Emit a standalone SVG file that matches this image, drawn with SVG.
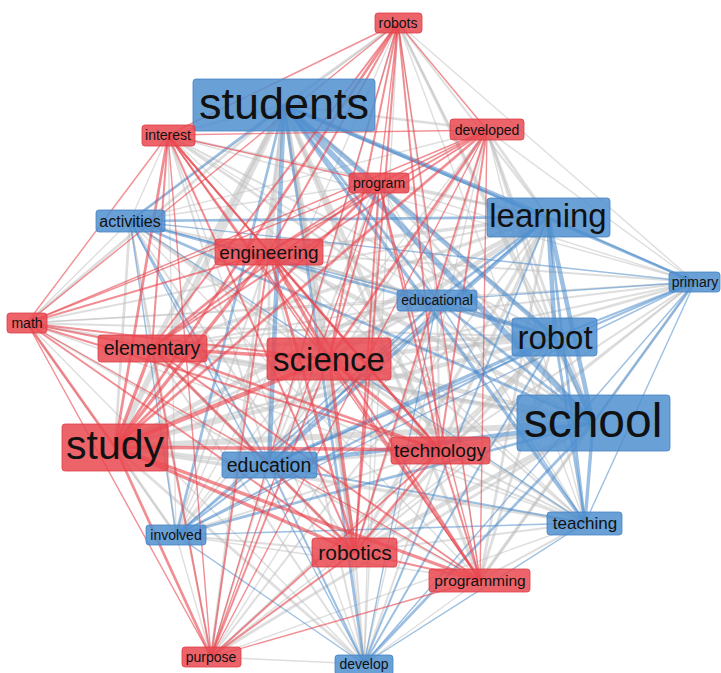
<svg xmlns="http://www.w3.org/2000/svg" width="721" height="673" viewBox="0 0 721 673">
<style>
.g line{stroke:#bdbdbd;stroke-opacity:.5}
.b line{stroke:#4a8bcb;stroke-opacity:.55}
.r line{stroke:#e8424b;stroke-opacity:.6}
.a{stroke-width:1.4}.c{stroke-width:2}.d{stroke-width:2.7}.e{stroke-width:3.4}.f{stroke-width:4.5}.h{stroke-width:6}
.rn rect{fill:#ea4850;fill-opacity:.85;stroke:#dc3f47;stroke-width:.8}
.bn rect{fill:#4f8fcf;fill-opacity:.85;stroke:#4683c2;stroke-width:.8}
text{font-family:"Liberation Sans",Arial,Helvetica,sans-serif;fill:#111;text-anchor:middle}
</style>
<rect width="721" height="673" fill="#fff"/>
<g id="connectors">
<g class="g">
<line x1="398" y1="23" x2="284" y2="105" class="d"/>
<line x1="398" y1="23" x2="548" y2="217" class="c"/>
<line x1="398" y1="23" x2="130" y2="221" class="a"/>
<line x1="398" y1="23" x2="695" y2="282" class="a"/>
<line x1="398" y1="23" x2="437" y2="300" class="a"/>
<line x1="398" y1="23" x2="555" y2="337" class="c"/>
<line x1="398" y1="23" x2="593" y2="423" class="d"/>
<line x1="398" y1="23" x2="269" y2="465" class="c"/>
<line x1="398" y1="23" x2="176" y2="535" class="a"/>
<line x1="398" y1="23" x2="585" y2="523" class="a"/>
<line x1="398" y1="23" x2="364" y2="664" class="a"/>
<line x1="284" y1="105" x2="168" y2="135" class="d"/>
<line x1="284" y1="105" x2="487" y2="130" class="d"/>
<line x1="284" y1="105" x2="379" y2="183" class="d"/>
<line x1="284" y1="105" x2="269" y2="252" class="f"/>
<line x1="284" y1="105" x2="27" y2="323" class="d"/>
<line x1="284" y1="105" x2="152" y2="348" class="f"/>
<line x1="284" y1="105" x2="329" y2="359" class="f"/>
<line x1="284" y1="105" x2="115" y2="447" class="h"/>
<line x1="284" y1="105" x2="440" y2="450" class="f"/>
<line x1="284" y1="105" x2="355" y2="552" class="f"/>
<line x1="284" y1="105" x2="480" y2="580" class="e"/>
<line x1="284" y1="105" x2="211" y2="657" class="d"/>
<line x1="168" y1="135" x2="548" y2="217" class="c"/>
<line x1="168" y1="135" x2="130" y2="221" class="a"/>
<line x1="168" y1="135" x2="695" y2="282" class="a"/>
<line x1="168" y1="135" x2="437" y2="300" class="a"/>
<line x1="168" y1="135" x2="555" y2="337" class="c"/>
<line x1="168" y1="135" x2="593" y2="423" class="d"/>
<line x1="168" y1="135" x2="269" y2="465" class="c"/>
<line x1="168" y1="135" x2="176" y2="535" class="a"/>
<line x1="168" y1="135" x2="585" y2="523" class="a"/>
<line x1="168" y1="135" x2="364" y2="664" class="a"/>
<line x1="487" y1="130" x2="548" y2="217" class="d"/>
<line x1="487" y1="130" x2="130" y2="221" class="a"/>
<line x1="487" y1="130" x2="695" y2="282" class="a"/>
<line x1="487" y1="130" x2="437" y2="300" class="a"/>
<line x1="487" y1="130" x2="555" y2="337" class="d"/>
<line x1="487" y1="130" x2="593" y2="423" class="d"/>
<line x1="487" y1="130" x2="269" y2="465" class="c"/>
<line x1="487" y1="130" x2="176" y2="535" class="a"/>
<line x1="487" y1="130" x2="585" y2="523" class="a"/>
<line x1="487" y1="130" x2="364" y2="664" class="a"/>
<line x1="379" y1="183" x2="548" y2="217" class="c"/>
<line x1="379" y1="183" x2="130" y2="221" class="a"/>
<line x1="379" y1="183" x2="695" y2="282" class="a"/>
<line x1="379" y1="183" x2="437" y2="300" class="a"/>
<line x1="379" y1="183" x2="555" y2="337" class="c"/>
<line x1="379" y1="183" x2="593" y2="423" class="d"/>
<line x1="379" y1="183" x2="269" y2="465" class="c"/>
<line x1="379" y1="183" x2="176" y2="535" class="a"/>
<line x1="379" y1="183" x2="585" y2="523" class="a"/>
<line x1="379" y1="183" x2="364" y2="664" class="a"/>
<line x1="548" y1="217" x2="269" y2="252" class="e"/>
<line x1="548" y1="217" x2="27" y2="323" class="c"/>
<line x1="548" y1="217" x2="152" y2="348" class="e"/>
<line x1="548" y1="217" x2="329" y2="359" class="f"/>
<line x1="548" y1="217" x2="115" y2="447" class="f"/>
<line x1="548" y1="217" x2="440" y2="450" class="e"/>
<line x1="548" y1="217" x2="355" y2="552" class="e"/>
<line x1="548" y1="217" x2="480" y2="580" class="d"/>
<line x1="548" y1="217" x2="211" y2="657" class="c"/>
<line x1="130" y1="221" x2="269" y2="252" class="c"/>
<line x1="130" y1="221" x2="27" y2="323" class="a"/>
<line x1="130" y1="221" x2="152" y2="348" class="c"/>
<line x1="130" y1="221" x2="329" y2="359" class="d"/>
<line x1="130" y1="221" x2="115" y2="447" class="d"/>
<line x1="130" y1="221" x2="440" y2="450" class="c"/>
<line x1="130" y1="221" x2="355" y2="552" class="c"/>
<line x1="130" y1="221" x2="480" y2="580" class="a"/>
<line x1="130" y1="221" x2="211" y2="657" class="a"/>
<line x1="269" y1="252" x2="695" y2="282" class="c"/>
<line x1="269" y1="252" x2="437" y2="300" class="c"/>
<line x1="269" y1="252" x2="555" y2="337" class="e"/>
<line x1="269" y1="252" x2="593" y2="423" class="f"/>
<line x1="269" y1="252" x2="269" y2="465" class="d"/>
<line x1="269" y1="252" x2="176" y2="535" class="c"/>
<line x1="269" y1="252" x2="585" y2="523" class="c"/>
<line x1="269" y1="252" x2="364" y2="664" class="c"/>
<line x1="695" y1="282" x2="27" y2="323" class="a"/>
<line x1="695" y1="282" x2="152" y2="348" class="c"/>
<line x1="695" y1="282" x2="329" y2="359" class="c"/>
<line x1="695" y1="282" x2="115" y2="447" class="d"/>
<line x1="695" y1="282" x2="440" y2="450" class="c"/>
<line x1="695" y1="282" x2="355" y2="552" class="c"/>
<line x1="695" y1="282" x2="480" y2="580" class="a"/>
<line x1="695" y1="282" x2="211" y2="657" class="a"/>
<line x1="437" y1="300" x2="27" y2="323" class="a"/>
<line x1="437" y1="300" x2="152" y2="348" class="c"/>
<line x1="437" y1="300" x2="329" y2="359" class="d"/>
<line x1="437" y1="300" x2="115" y2="447" class="d"/>
<line x1="437" y1="300" x2="440" y2="450" class="c"/>
<line x1="437" y1="300" x2="355" y2="552" class="c"/>
<line x1="437" y1="300" x2="480" y2="580" class="a"/>
<line x1="437" y1="300" x2="211" y2="657" class="a"/>
<line x1="27" y1="323" x2="555" y2="337" class="c"/>
<line x1="27" y1="323" x2="593" y2="423" class="d"/>
<line x1="27" y1="323" x2="269" y2="465" class="c"/>
<line x1="27" y1="323" x2="176" y2="535" class="a"/>
<line x1="27" y1="323" x2="585" y2="523" class="a"/>
<line x1="27" y1="323" x2="364" y2="664" class="a"/>
<line x1="555" y1="337" x2="152" y2="348" class="e"/>
<line x1="555" y1="337" x2="329" y2="359" class="f"/>
<line x1="555" y1="337" x2="115" y2="447" class="f"/>
<line x1="555" y1="337" x2="440" y2="450" class="e"/>
<line x1="555" y1="337" x2="355" y2="552" class="e"/>
<line x1="555" y1="337" x2="480" y2="580" class="d"/>
<line x1="555" y1="337" x2="211" y2="657" class="c"/>
<line x1="152" y1="348" x2="593" y2="423" class="f"/>
<line x1="152" y1="348" x2="269" y2="465" class="d"/>
<line x1="152" y1="348" x2="176" y2="535" class="c"/>
<line x1="152" y1="348" x2="585" y2="523" class="c"/>
<line x1="152" y1="348" x2="364" y2="664" class="c"/>
<line x1="329" y1="359" x2="593" y2="423" class="f"/>
<line x1="329" y1="359" x2="269" y2="465" class="e"/>
<line x1="329" y1="359" x2="176" y2="535" class="c"/>
<line x1="329" y1="359" x2="585" y2="523" class="d"/>
<line x1="329" y1="359" x2="364" y2="664" class="c"/>
<line x1="115" y1="447" x2="593" y2="423" class="h"/>
<line x1="115" y1="447" x2="269" y2="465" class="e"/>
<line x1="115" y1="447" x2="176" y2="535" class="d"/>
<line x1="115" y1="447" x2="585" y2="523" class="e"/>
<line x1="115" y1="447" x2="364" y2="664" class="d"/>
<line x1="593" y1="423" x2="440" y2="450" class="f"/>
<line x1="593" y1="423" x2="355" y2="552" class="f"/>
<line x1="593" y1="423" x2="480" y2="580" class="e"/>
<line x1="593" y1="423" x2="211" y2="657" class="d"/>
<line x1="269" y1="465" x2="440" y2="450" class="d"/>
<line x1="269" y1="465" x2="355" y2="552" class="d"/>
<line x1="269" y1="465" x2="480" y2="580" class="c"/>
<line x1="269" y1="465" x2="211" y2="657" class="c"/>
<line x1="440" y1="450" x2="176" y2="535" class="c"/>
<line x1="440" y1="450" x2="585" y2="523" class="c"/>
<line x1="440" y1="450" x2="364" y2="664" class="c"/>
<line x1="176" y1="535" x2="355" y2="552" class="c"/>
<line x1="176" y1="535" x2="480" y2="580" class="a"/>
<line x1="176" y1="535" x2="211" y2="657" class="a"/>
<line x1="585" y1="523" x2="355" y2="552" class="c"/>
<line x1="585" y1="523" x2="480" y2="580" class="c"/>
<line x1="585" y1="523" x2="211" y2="657" class="a"/>
<line x1="355" y1="552" x2="364" y2="664" class="c"/>
<line x1="480" y1="580" x2="364" y2="664" class="a"/>
<line x1="211" y1="657" x2="364" y2="664" class="a"/>
</g>
<g class="b">
<line x1="284" y1="105" x2="548" y2="217" class="f"/>
<line x1="284" y1="105" x2="130" y2="221" class="d"/>
<line x1="284" y1="105" x2="695" y2="282" class="d"/>
<line x1="284" y1="105" x2="437" y2="300" class="d"/>
<line x1="284" y1="105" x2="555" y2="337" class="f"/>
<line x1="284" y1="105" x2="593" y2="423" class="h"/>
<line x1="284" y1="105" x2="269" y2="465" class="f"/>
<line x1="284" y1="105" x2="176" y2="535" class="d"/>
<line x1="284" y1="105" x2="585" y2="523" class="e"/>
<line x1="284" y1="105" x2="364" y2="664" class="d"/>
<line x1="548" y1="217" x2="130" y2="221" class="d"/>
<line x1="548" y1="217" x2="695" y2="282" class="c"/>
<line x1="548" y1="217" x2="437" y2="300" class="d"/>
<line x1="548" y1="217" x2="555" y2="337" class="f"/>
<line x1="548" y1="217" x2="593" y2="423" class="f"/>
<line x1="548" y1="217" x2="269" y2="465" class="e"/>
<line x1="548" y1="217" x2="176" y2="535" class="c"/>
<line x1="548" y1="217" x2="585" y2="523" class="d"/>
<line x1="548" y1="217" x2="364" y2="664" class="c"/>
<line x1="130" y1="221" x2="695" y2="282" class="a"/>
<line x1="130" y1="221" x2="437" y2="300" class="a"/>
<line x1="130" y1="221" x2="555" y2="337" class="d"/>
<line x1="130" y1="221" x2="593" y2="423" class="d"/>
<line x1="130" y1="221" x2="269" y2="465" class="c"/>
<line x1="130" y1="221" x2="176" y2="535" class="a"/>
<line x1="130" y1="221" x2="585" y2="523" class="a"/>
<line x1="130" y1="221" x2="364" y2="664" class="a"/>
<line x1="695" y1="282" x2="437" y2="300" class="a"/>
<line x1="695" y1="282" x2="555" y2="337" class="c"/>
<line x1="695" y1="282" x2="593" y2="423" class="d"/>
<line x1="695" y1="282" x2="269" y2="465" class="c"/>
<line x1="695" y1="282" x2="176" y2="535" class="a"/>
<line x1="695" y1="282" x2="585" y2="523" class="a"/>
<line x1="695" y1="282" x2="364" y2="664" class="a"/>
<line x1="437" y1="300" x2="555" y2="337" class="d"/>
<line x1="437" y1="300" x2="593" y2="423" class="d"/>
<line x1="437" y1="300" x2="269" y2="465" class="c"/>
<line x1="437" y1="300" x2="176" y2="535" class="a"/>
<line x1="437" y1="300" x2="585" y2="523" class="a"/>
<line x1="437" y1="300" x2="364" y2="664" class="a"/>
<line x1="555" y1="337" x2="593" y2="423" class="f"/>
<line x1="555" y1="337" x2="269" y2="465" class="e"/>
<line x1="555" y1="337" x2="176" y2="535" class="c"/>
<line x1="555" y1="337" x2="585" y2="523" class="d"/>
<line x1="555" y1="337" x2="364" y2="664" class="c"/>
<line x1="593" y1="423" x2="269" y2="465" class="f"/>
<line x1="593" y1="423" x2="176" y2="535" class="d"/>
<line x1="593" y1="423" x2="585" y2="523" class="e"/>
<line x1="593" y1="423" x2="364" y2="664" class="d"/>
<line x1="269" y1="465" x2="176" y2="535" class="c"/>
<line x1="269" y1="465" x2="585" y2="523" class="c"/>
<line x1="269" y1="465" x2="364" y2="664" class="c"/>
<line x1="176" y1="535" x2="585" y2="523" class="a"/>
<line x1="176" y1="535" x2="364" y2="664" class="a"/>
<line x1="585" y1="523" x2="364" y2="664" class="a"/>
</g>
<g class="r">
<line x1="398" y1="23" x2="168" y2="135" class="a"/>
<line x1="398" y1="23" x2="487" y2="130" class="a"/>
<line x1="398" y1="23" x2="379" y2="183" class="a"/>
<line x1="398" y1="23" x2="269" y2="252" class="c"/>
<line x1="398" y1="23" x2="27" y2="323" class="a"/>
<line x1="398" y1="23" x2="152" y2="348" class="c"/>
<line x1="398" y1="23" x2="329" y2="359" class="c"/>
<line x1="398" y1="23" x2="115" y2="447" class="d"/>
<line x1="398" y1="23" x2="440" y2="450" class="c"/>
<line x1="398" y1="23" x2="355" y2="552" class="c"/>
<line x1="398" y1="23" x2="480" y2="580" class="a"/>
<line x1="398" y1="23" x2="211" y2="657" class="a"/>
<line x1="168" y1="135" x2="487" y2="130" class="a"/>
<line x1="168" y1="135" x2="379" y2="183" class="a"/>
<line x1="168" y1="135" x2="269" y2="252" class="c"/>
<line x1="168" y1="135" x2="27" y2="323" class="a"/>
<line x1="168" y1="135" x2="152" y2="348" class="c"/>
<line x1="168" y1="135" x2="329" y2="359" class="c"/>
<line x1="168" y1="135" x2="115" y2="447" class="d"/>
<line x1="168" y1="135" x2="440" y2="450" class="c"/>
<line x1="168" y1="135" x2="355" y2="552" class="c"/>
<line x1="168" y1="135" x2="480" y2="580" class="a"/>
<line x1="168" y1="135" x2="211" y2="657" class="a"/>
<line x1="487" y1="130" x2="379" y2="183" class="a"/>
<line x1="487" y1="130" x2="269" y2="252" class="c"/>
<line x1="487" y1="130" x2="27" y2="323" class="a"/>
<line x1="487" y1="130" x2="152" y2="348" class="c"/>
<line x1="487" y1="130" x2="329" y2="359" class="d"/>
<line x1="487" y1="130" x2="115" y2="447" class="d"/>
<line x1="487" y1="130" x2="440" y2="450" class="c"/>
<line x1="487" y1="130" x2="355" y2="552" class="c"/>
<line x1="487" y1="130" x2="480" y2="580" class="a"/>
<line x1="487" y1="130" x2="211" y2="657" class="a"/>
<line x1="379" y1="183" x2="269" y2="252" class="c"/>
<line x1="379" y1="183" x2="27" y2="323" class="a"/>
<line x1="379" y1="183" x2="152" y2="348" class="c"/>
<line x1="379" y1="183" x2="329" y2="359" class="c"/>
<line x1="379" y1="183" x2="115" y2="447" class="d"/>
<line x1="379" y1="183" x2="440" y2="450" class="c"/>
<line x1="379" y1="183" x2="355" y2="552" class="c"/>
<line x1="379" y1="183" x2="480" y2="580" class="a"/>
<line x1="379" y1="183" x2="211" y2="657" class="a"/>
<line x1="269" y1="252" x2="27" y2="323" class="c"/>
<line x1="269" y1="252" x2="152" y2="348" class="d"/>
<line x1="269" y1="252" x2="329" y2="359" class="e"/>
<line x1="269" y1="252" x2="115" y2="447" class="e"/>
<line x1="269" y1="252" x2="440" y2="450" class="d"/>
<line x1="269" y1="252" x2="355" y2="552" class="d"/>
<line x1="269" y1="252" x2="480" y2="580" class="c"/>
<line x1="269" y1="252" x2="211" y2="657" class="c"/>
<line x1="27" y1="323" x2="152" y2="348" class="c"/>
<line x1="27" y1="323" x2="329" y2="359" class="c"/>
<line x1="27" y1="323" x2="115" y2="447" class="d"/>
<line x1="27" y1="323" x2="440" y2="450" class="c"/>
<line x1="27" y1="323" x2="355" y2="552" class="c"/>
<line x1="27" y1="323" x2="480" y2="580" class="a"/>
<line x1="27" y1="323" x2="211" y2="657" class="a"/>
<line x1="152" y1="348" x2="329" y2="359" class="e"/>
<line x1="152" y1="348" x2="115" y2="447" class="e"/>
<line x1="152" y1="348" x2="440" y2="450" class="d"/>
<line x1="152" y1="348" x2="355" y2="552" class="d"/>
<line x1="152" y1="348" x2="480" y2="580" class="c"/>
<line x1="152" y1="348" x2="211" y2="657" class="c"/>
<line x1="329" y1="359" x2="115" y2="447" class="f"/>
<line x1="329" y1="359" x2="440" y2="450" class="e"/>
<line x1="329" y1="359" x2="355" y2="552" class="e"/>
<line x1="329" y1="359" x2="480" y2="580" class="d"/>
<line x1="329" y1="359" x2="211" y2="657" class="c"/>
<line x1="115" y1="447" x2="440" y2="450" class="e"/>
<line x1="115" y1="447" x2="355" y2="552" class="e"/>
<line x1="115" y1="447" x2="480" y2="580" class="e"/>
<line x1="115" y1="447" x2="211" y2="657" class="d"/>
<line x1="440" y1="450" x2="355" y2="552" class="d"/>
<line x1="440" y1="450" x2="480" y2="580" class="c"/>
<line x1="440" y1="450" x2="211" y2="657" class="c"/>
<line x1="355" y1="552" x2="480" y2="580" class="c"/>
<line x1="355" y1="552" x2="211" y2="657" class="c"/>
<line x1="480" y1="580" x2="211" y2="657" class="a"/>
</g>
</g>
<g id="node-robots" class="rn"><rect x="375" y="13" width="47" height="20" rx="3"/><text x="398" y="28" font-size="14">robots</text></g>
<g id="node-students" class="bn"><rect x="193" y="79" width="182" height="52" rx="3"/><text x="284" y="119" font-size="45">students</text></g>
<g id="node-interest" class="rn"><rect x="142" y="125" width="53" height="21" rx="3"/><text x="168" y="140" font-size="14">interest</text></g>
<g id="node-developed" class="rn"><rect x="450" y="119" width="74" height="21" rx="3"/><text x="487" y="135" font-size="14">developed</text></g>
<g id="node-program" class="rn"><rect x="349" y="173" width="60" height="20" rx="3"/><text x="379" y="188" font-size="14">program</text></g>
<g id="node-learning" class="bn"><rect x="487" y="198" width="123" height="39" rx="3"/><text x="548" y="227" font-size="33">learning</text></g>
<g id="node-activities" class="bn"><rect x="96" y="210" width="69" height="22" rx="3"/><text x="130" y="227" font-size="16">activities</text></g>
<g id="node-engineering" class="rn"><rect x="215" y="239" width="108" height="26" rx="3"/><text x="269" y="258.5" font-size="19">engineering</text></g>
<g id="node-primary" class="bn"><rect x="669" y="272" width="51" height="20" rx="3"/><text x="695" y="287" font-size="14">primary</text></g>
<g id="node-educational" class="bn"><rect x="397" y="290" width="80" height="21" rx="3"/><text x="437" y="305" font-size="14">educational</text></g>
<g id="node-math" class="rn"><rect x="7" y="313" width="40" height="20" rx="3"/><text x="27" y="328" font-size="14">math</text></g>
<g id="node-robot" class="bn"><rect x="512" y="318" width="85" height="38" rx="3"/><text x="555" y="348.5" font-size="33">robot</text></g>
<g id="node-elementary" class="rn"><rect x="98" y="335" width="109" height="27" rx="3"/><text x="152" y="355" font-size="19.5">elementary</text></g>
<g id="node-science" class="rn"><rect x="267" y="338" width="124" height="42" rx="3"/><text x="329" y="370.5" font-size="33">science</text></g>
<g id="node-study" class="rn"><rect x="62" y="424" width="106" height="47" rx="3"/><text x="115" y="459" font-size="41">study</text></g>
<g id="node-school" class="bn"><rect x="517" y="395" width="153" height="56" rx="3"/><text x="593" y="437" font-size="48">school</text></g>
<g id="node-education" class="bn"><rect x="222" y="452" width="95" height="26" rx="3"/><text x="269" y="472" font-size="19.5">education</text></g>
<g id="node-technology" class="rn"><rect x="391" y="437" width="99" height="27" rx="3"/><text x="440" y="457" font-size="19">technology</text></g>
<g id="node-involved" class="bn"><rect x="146" y="525" width="60" height="20" rx="3"/><text x="176" y="540" font-size="14">involved</text></g>
<g id="node-teaching" class="bn"><rect x="547" y="512" width="75" height="23" rx="3"/><text x="585" y="529" font-size="17">teaching</text></g>
<g id="node-robotics" class="rn"><rect x="312" y="538" width="85" height="29" rx="3"/><text x="355" y="559.5" font-size="21">robotics</text></g>
<g id="node-programming" class="rn"><rect x="429" y="569" width="101" height="23" rx="3"/><text x="480" y="585.5" font-size="15.5">programming</text></g>
<g id="node-purpose" class="rn"><rect x="182" y="647" width="59" height="20" rx="3"/><text x="211" y="662" font-size="14">purpose</text></g>
<g id="node-develop" class="bn"><rect x="335" y="655" width="58" height="20" rx="3"/><text x="364" y="669" font-size="14">develop</text></g>
</svg>
